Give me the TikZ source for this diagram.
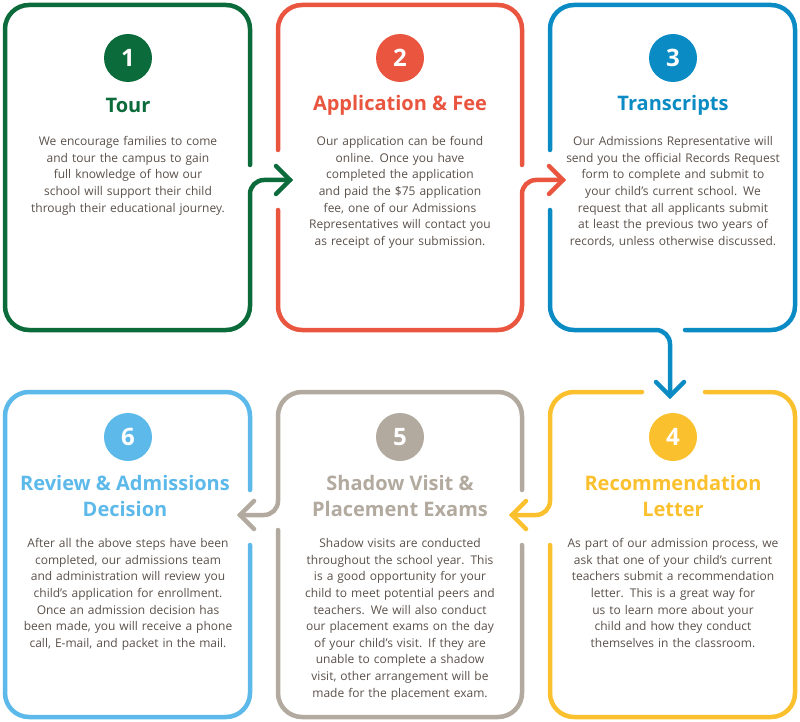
\documentclass[tikz,border=0pt]{standalone}
\usepackage{fontspec}
\setmainfont{Open Sans}
\definecolor{cgreen}{HTML}{0B6B3A}
\definecolor{cred}{HTML}{E9553F}
\definecolor{cblue}{HTML}{0A8BC4}
\definecolor{cyellow}{HTML}{FBC02D}
\definecolor{cgray}{HTML}{B2A99F}
\definecolor{clight}{HTML}{5CB9E9}
\definecolor{ctext}{HTML}{5A504A}
\tikzset{
  outline/.style={line width=4.5pt,line cap=round,rounded corners=24pt},
  num/.style={circle,fill=#1,minimum size=48pt,inner sep=0pt,text=white,font=\bfseries\fontsize{24}{24}\selectfont},
  title/.style={text=#1,font=\bfseries\fontsize{20}{26}\selectfont,align=center},
  body/.style={text=ctext,font=\fontsize{12}{16.6}\selectfont,align=center,text width=#1,anchor=north}
}
\begin{document}
\hyphenpenalty=10000
\exhyphenpenalty=10000
\begin{tikzpicture}[x=1pt,y=-1pt]
\useasboundingbox (0,0) rectangle (800,722);
% box 1
\draw[outline,cgreen] (250,165) -- (250,5) -- (5,5) -- (5,330) -- (250,330) [rounded corners=14pt] -- (250,180) -- (290,180);
\draw[cgreen,line width=4.5pt,line cap=round,line join=miter] (276,166) -- (290,180) -- (276,194);
% box 2
\draw[outline,cred] (522,165) -- (522,5) -- (278,5) -- (278,150);
\draw[outline,cred] (278,210) -- (278,330) -- (522,330) [rounded corners=14pt] -- (522,180) -- (563,180);
\draw[cred,line width=4.5pt,line cap=round] (549,166) -- (563,180) -- (549,194);
% box 3
\draw[outline,cblue] (685,330) -- (795,330) -- (795,5) -- (550,5) -- (550,150);
\draw[outline,cblue] (550,210) -- (550,330) [rounded corners=14pt] -- (670,330) -- (670,396);
\draw[cblue,line width=4.5pt,line cap=round] (656,382) -- (670,396) -- (684,382);
% box 4
\draw[outline,cyellow] (705,392) -- (795,392) -- (795,717) -- (550,717) -- (550,545);
\draw[outline,cyellow] (642,392) -- (550,392) [rounded corners=14pt] -- (550,515) -- (512,515);
\draw[cyellow,line width=4.5pt,line cap=round] (526,501) -- (512,515) -- (526,529);
% box 5
\draw[outline,cgray] (522,490) -- (522,392) -- (278,392) [rounded corners=14pt] -- (278,515) -- (240,515);
\draw[cgray,line width=4.5pt,line cap=round] (254,501) -- (240,515) -- (254,529);
\draw[outline,cgray] (278,530) -- (278,717) -- (522,717) -- (522,545);
% box 6
\draw[outline,clight] (250,490) -- (250,392) -- (5,392) -- (5,717) -- (250,717) -- (250,545);
% numbers
\node[num=cgreen] (n1) at (128,58) {1};
\node[num=cred] (n2) at (400,58) {2};
\node[num=cblue] (n3) at (673,58) {3};
\node[num=cyellow] (n4) at (673,437) {4};
\node[num=cgray] (n5) at (400,437) {5};
\node[num=clight] (n6) at (128,437) {6};
% titles
\node[title=cgreen] (t1) at (128,105) {Tour};
\node[title=cred] (t2) at (400,105) {Application \& Fee};
\node[title=cblue] (t3) at (673,105) {Transcripts};
\node[title=cyellow] (t4) at (673,496) {Recommendation\\Letter};
\node[title=cgray] (t5) at (400,496) {Shadow Visit \&\\Placement Exams};
\node[title=clight] (t6) at (125,496) {Review \& Admissions\\Decision};
% texts
\node[body=210pt] (b1) at (128,133) {We encourage families to come and tour the campus to gain full knowledge of how our school will support their child through their educational journey.};
\node[body=210pt] (b2) at (400,133) {Our application can be found online. Once you have completed the application and paid the \$75 application fee, one of our Admissions Representatives will contact you as receipt of your submission.};
\node[body=215pt] (b3) at (673,133) {Our Admissions Representative will send you the official Records Request form to complete and submit to your child's current school. We request that all applicants submit at least the previous two years of records, unless otherwise discussed.};
\node[body=215pt] (b4) at (673,535) {As part of our admission process, we ask that one of your child's current teachers submit a recommendation letter. This is a great way for us to learn more about your child and how they conduct themselves in the classroom.};
\node[body=205pt] (b5) at (400,535) {Shadow visits are conducted throughout the school year. This is a good opportunity for your child to meet potential peers and teachers. We will also conduct our placement exams on the day of your child's visit. If they are unable to complete a shadow visit, other arrangement will be made for the placement exam.};
\node[body=210pt] (b6) at (128,535) {After all the above steps have been completed, our admissions team and administration will review you child's application for enrollment. Once an admission decision has been made, you will receive a phone call, E-mail, and packet in the mail.};
\end{tikzpicture}
\end{document}
